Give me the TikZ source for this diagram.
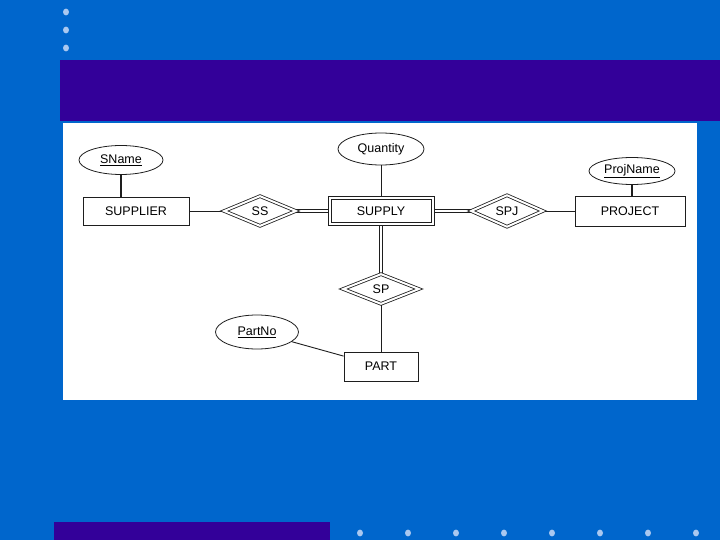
\documentclass[tikz,border=0pt]{standalone}
\usepackage{fontspec}
\setmainfont{Liberation Sans}
\usetikzlibrary{shapes.geometric}
\definecolor{slideblue}{RGB}{0,102,204}
\definecolor{titlepurple}{RGB}{51,0,153}
\definecolor{dotblue}{RGB}{170,200,240}
\definecolor{inkgray}{RGB}{30,30,30}
\newcommand{\erfont}{\fontsize{12.5}{14}\selectfont}
\pgfdeclarelayer{slide}
\pgfdeclarelayer{links}
\pgfsetlayers{slide,links,main}

\begin{document}
\begin{tikzpicture}[x=1pt,y=-1pt,
entity/.style={draw=inkgray, fill=white, line width=0.9pt, rectangle, minimum width=106pt, minimum height=28pt, inner sep=0pt, font=\erfont},
weakentity/.style={entity, line width=1pt, double, double distance=2pt, minimum width=103pt, minimum height=26pt},
attrib/.style={draw=inkgray, fill=white, line width=0.8pt, ellipse, minimum width=84pt, minimum height=29pt, inner sep=0pt, font=\erfont},
idrel/.style={draw=inkgray, fill=white, line width=0.8pt, diamond, double, double distance=2pt, minimum width=72pt, minimum height=30pt, inner sep=0pt, font=\erfont},
link/.style={draw=inkgray, line width=0.9pt},
keylink/.style={link, line width=1.5pt},
totallink/.style={link, double, double distance=2pt},
]
    \useasboundingbox (0,0) rectangle (720,540);
    % slide
    \begin{pgfonlayer}{slide}
    \fill[slideblue] (0,0) rectangle (720,540);
    \fill[titlepurple] (60,60) rectangle (720,121);
    \fill[titlepurple] (54,522) rectangle (330,540);
    \fill[white] (63,123) rectangle (697,400);
    \foreach \y in {12,30,48}
        \fill[dotblue] (66,\y) ellipse (3pt and 3.4pt);
    \foreach \k in {0,...,7}
        \fill[dotblue] (360+48*\k,533) ellipse (3pt and 3.4pt);
    \end{pgfonlayer}

    % ER diagram
    \node[attrib](sname) at (121,160) {\underline{SName}};
    \node[entity](supplier) at (136,211) {SUPPLIER};
    \node[idrel](ss) at (260,211) {SS};
    \node[weakentity](supply) at (381,211) {SUPPLY};
    \node[attrib, minimum width=86pt, minimum height=32pt](quantity) at (381,149) {Quantity};
    \node[idrel](spj) at (507,211) {SPJ};
    \node[entity, minimum width=110pt, minimum height=30pt](project) at (630,211) {PROJECT};
    \node[attrib, minimum width=86pt, minimum height=27pt](projname) at (632,171) {\underline{ProjName}};
    \node[idrel, minimum width=76pt](sp) at (381,289) {SP};
    \node[entity, minimum width=74pt, minimum height=29pt](part) at (381,366.5) {PART};
    \node[attrib, minimum width=83pt, minimum height=34pt](partno) at (257,332) {\underline{PartNo}};

    \begin{pgfonlayer}{links}
    \draw[keylink] (sname.south) -- (sname.south |- supplier.north);
    \draw[link] (supplier) -- (ss);
    \draw[totallink] (ss) -- (supply);
    \draw[link] (quantity) -- (supply);
    \draw[totallink] (supply) -- (spj);
    \draw[link] (spj) -- (project);
    \draw[keylink] (projname.south) -- (projname.south |- project.north);
    \draw[totallink] (supply) -- (sp);
    \draw[link] (sp) -- (part);
    \draw[link] (partno) -- (part);
    \end{pgfonlayer}
\end{tikzpicture}
\end{document}
